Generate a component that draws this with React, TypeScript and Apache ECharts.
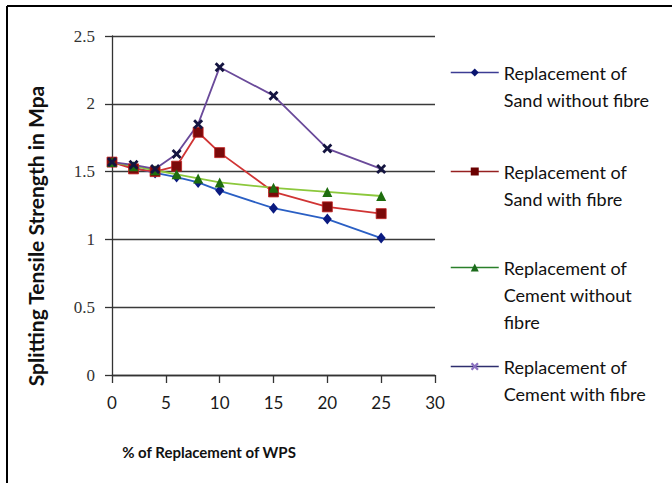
import React, { useEffect, useRef } from "react";
import * as echarts from "echarts";

const replacementPct = [0, 2, 4, 6, 8, 10, 15, 20, 25];
const sandWithoutFibre = [1.57, 1.53, 1.49, 1.46, 1.42, 1.36, 1.23, 1.15, 1.01];
const sandWithFibre = [1.57, 1.52, 1.5, 1.54, 1.79, 1.64, 1.35, 1.24, 1.19];
const cementWithoutFibre = [1.57, 1.54, 1.51, 1.48, 1.45, 1.42, 1.38, 1.35, 1.32];
const cementWithFibre = [1.57, 1.55, 1.52, 1.63, 1.85, 2.27, 2.06, 1.67, 1.52];

const seriesNames = [
  "Replacement of\nSand without fibre",
  "Replacement of\nSand with fibre",
  "Replacement of\nCement without\nfibre",
  "Replacement of\nCement with fibre",
];

const X_THICK = "path://M0,2L2,0L5,3L8,0L10,2L7,5L10,8L8,10L5,7L2,10L0,8L3,5Z";

const FONT = "Lato";

export default function App() {
  const ref = useRef<HTMLDivElement>(null);
  useEffect(() => {
    if (!ref.current) return;
    const chart = echarts.init(ref.current, undefined, { renderer: "svg" });
    const pairs = (vals: number[]) => replacementPct.map((x, i) => [x, vals[i]]);

    const legendTops = [32, 131, 200, 326];
    const legendBlank = [1, 1, 2, 1];
    const legendColors = [
      { line: "#3c3c94", fill: "#0a1570" },
      { line: "#962020", fill: "#6b0000" },
      { line: "#2a802a", fill: "#1b6b1b" },
      { line: "#2e2e6e", fill: "#8a70c0" },
    ];

    const option: any = {
      animation: false,
      backgroundColor: "#ffffff",
      grid: { left: 112, right: 237, top: 36, bottom: 108 },
      xAxis: {
        type: "value",
        min: 0,
        max: 30,
        interval: 5,
        axisLine: { show: true, lineStyle: { color: "#333", width: 1.3 } },
        axisTick: { show: true, inside: false, length: 8, lineStyle: { color: "#333", width: 1.3 } },
        splitLine: { show: false },
        axisLabel: { margin: 19, color: "#1a1a1a", fontFamily: FONT, fontSize: 17 },
      },
      yAxis: {
        type: "value",
        min: 0,
        max: 2.5,
        interval: 0.5,
        axisLine: { show: true, lineStyle: { color: "#333", width: 1.3 } },
        axisTick: { show: true, inside: false, length: 7, lineStyle: { color: "#333", width: 1.3 } },
        splitLine: { show: true, lineStyle: { color: "#3a3a3a", width: 1.3 } },
        axisLabel: {
          margin: 17,
          color: "#333",
          fontFamily: "Liberation Serif",
          fontSize: 17,
        },
      },
      legend: seriesNames.map((name, i) => ({
        left: 450,
        top: legendTops[i],
        padding: 0,
        orient: "vertical",
        itemWidth: 48,
        itemHeight: 10,
        itemGap: 5,
        selectedMode: false,
        formatter: (n: string) => "\n".repeat(legendBlank[i]) + n,
        textStyle: { fontFamily: FONT, fontSize: 18, lineHeight: 27, color: "#111" },
        data: [
          {
            name,
            itemStyle: { color: legendColors[i].fill, borderWidth: 0 },
            lineStyle: { color: legendColors[i].line, width: 1.5 },
          },
        ],
      })),
      graphic: [
        { type: "line", shape: { x1: 7, y1: 6, x2: 672, y2: 6 }, style: { stroke: "#000", lineWidth: 2 } },
        { type: "line", shape: { x1: 7, y1: 6, x2: 7, y2: 483 }, style: { stroke: "#000", lineWidth: 2 } },
        {
          type: "text",
          x: 35,
          y: 236,
          rotation: Math.PI / 2,
          style: {
            text: "Splitting Tensile Strength in Mpa",
            fontFamily: FONT,
            fontWeight: "bold",
            fontSize: 21,
            fill: "#111",
            align: "center",
            verticalAlign: "middle",
          },
        },
        {
          type: "text",
          x: 209,
          y: 452,
          style: {
            text: "% of Replacement of WPS",
            fontFamily: FONT,
            fontWeight: "bold",
            fontSize: 15,
            fill: "#111",
            align: "center",
            verticalAlign: "middle",
          },
        },
      ],
      series: [
        {
          name: seriesNames[0],
          type: "line",
          data: pairs(sandWithoutFibre),
          symbol: "diamond",
          symbolSize: [9, 11],
          lineStyle: { color: "#2a5fc4", width: 1.8 },
          itemStyle: { color: "#0a1a80" },
        },
        {
          name: seriesNames[1],
          type: "line",
          data: pairs(sandWithFibre),
          symbol: "rect",
          symbolSize: 10,
          lineStyle: { color: "#d03434", width: 1.8 },
          itemStyle: { color: "#7b0a0a", borderColor: "#c02020", borderWidth: 0.8 },
        },
        {
          name: seriesNames[2],
          type: "line",
          data: pairs(cementWithoutFibre),
          symbol: "triangle",
          symbolSize: 10,
          lineStyle: { color: "#8cc83c", width: 1.8 },
          itemStyle: { color: "#1e6e0f" },
        },
        {
          name: seriesNames[3],
          type: "line",
          data: pairs(cementWithFibre),
          symbol: X_THICK,
          symbolSize: 10,
          lineStyle: { color: "#6a4a9a", width: 1.8 },
          itemStyle: { color: "#141440" },
        },
      ],
    };
    chart.setOption(option);
    return () => chart.dispose();
  }, []);
  return (
    <div
      ref={ref}
      style={{ position: "absolute", left: 0, top: 0, width: 672, height: 483, background: "#fff" }}
    />
  );
}
